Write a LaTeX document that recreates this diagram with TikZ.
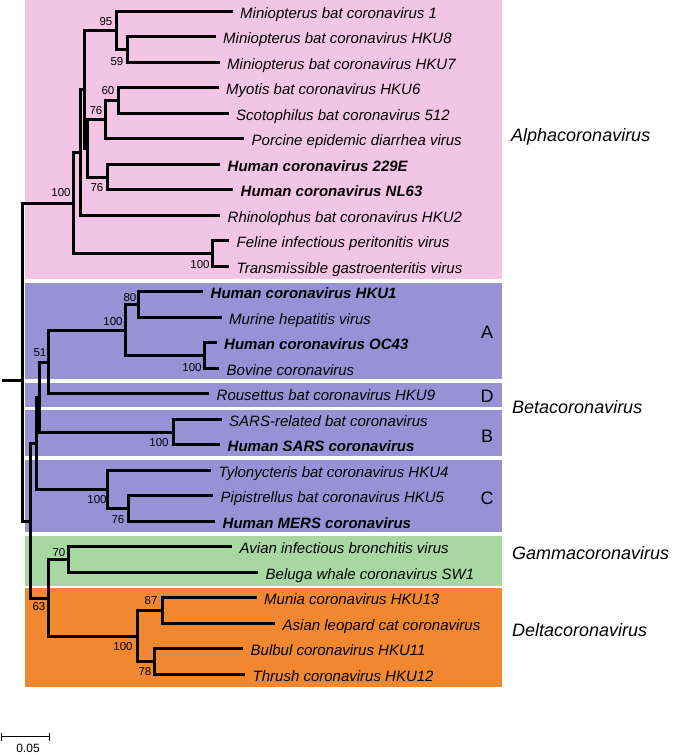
\documentclass[tikz,border=0pt]{standalone}
\usepackage{fontspec}
\setmainfont{Liberation Sans}
\definecolor{pinkc}{RGB}{243,197,228}
\definecolor{purc}{RGB}{152,145,213}
\definecolor{greenc}{RGB}{168,216,162}
\definecolor{orangec}{RGB}{241,135,48}
\tikzset{
  leaf/.style={anchor=west, inner xsep=7.5pt, inner ysep=0pt, text height=13.5pt, text depth=0pt, font=\fontsize{15}{18}\selectfont\itshape},
  leafb/.style={leaf, font=\fontsize{15}{18}\selectfont\bfseries\itshape},
  boot/.style={inner sep=0pt, font=\fontsize{11.5}{13}\selectfont},
  grp/.style={anchor=west, inner sep=0pt, font=\fontsize{18}{21}\selectfont\itshape},
  sub/.style={inner sep=0pt, font=\fontsize{18}{21}\selectfont},
  br/.style={line width=2.1pt, line join=miter},
}
\begin{document}
\begin{tikzpicture}[x=1pt,y=-1pt]
\useasboundingbox (0,0) rectangle (673,755);
% panels
\fill[pinkc] (25,0) rectangle (502,279);
\fill[purc] (25,283) rectangle (502,379);
\fill[purc] (25,383) rectangle (502,407);
\fill[purc] (25,410) rectangle (502,456);
\fill[purc] (25,460) rectangle (502,532);
\fill[greenc] (25,536) rectangle (502,586);
\fill[orangec] (25,588) rectangle (502,687);
% leaves
\node[leaf]  (L0)  at (232.5,11.5) {Miniopterus bat coronavirus 1};
\node[leaf]  (L1)  at (215.5,36.5) {Miniopterus bat coronavirus HKU8};
\node[leaf]  (L2)  at (219.5,62.5) {Miniopterus bat coronavirus HKU7};
\node[leaf]  (L3)  at (218.5,87.5) {Myotis bat coronavirus HKU6};
\node[leaf]  (L4)  at (228.5,113.5){Scotophilus bat coronavirus 512};
\node[leaf]  (L5)  at (244,138.5)  {Porcine epidemic diarrhea virus};
\node[leafb] (L6)  at (220,164.5)  {Human coronavirus 229E};
\node[leafb] (L7)  at (233,189.5)  {Human coronavirus NL63};
\node[leaf]  (L8)  at (220,215.5)  {Rhinolophus bat coronavirus HKU2};
\node[leaf]  (L9)  at (229,240.5)  {Feline infectious peritonitis virus};
\node[leaf]  (L10) at (229,266.5)  {Transmissible gastroenteritis virus};
\node[leafb] (L11) at (203,291.5)  {Human coronavirus HKU1};
\node[leaf]  (L12) at (221.5,317.5){Murine hepatitis virus};
\node[leafb] (L13) at (216.5,342.5){Human coronavirus OC43};
\node[leaf]  (L14) at (219,368.5)  {Bovine coronavirus};
\node[leaf]  (L15) at (209,393.5)  {Rousettus bat coronavirus HKU9};
\node[leaf]  (L16) at (221.5,419.5){SARS-related bat coronavirus};
\node[leafb] (L17) at (220,444.5)  {Human SARS coronavirus};
\node[leaf]  (L18) at (211,470.5)  {Tylonycteris bat coronavirus HKU4};
\node[leaf]  (L19) at (213,495.5)  {Pipistrellus bat coronavirus HKU5};
\node[leafb] (L20) at (215,521.5)  {Human MERS coronavirus};
\node[leaf]  (L21) at (232,546.5)  {Avian infectious bronchitis virus};
\node[leaf]  (L22) at (258,572.5)  {Beluga whale coronavirus SW1};
\node[leaf]  (L23) at (256.5,597.5){Munia coronavirus HKU13};
\node[leaf]  (L24) at (275,623.5)  {Asian leopard cat coronavirus};
\node[leaf]  (L25) at (243,648.5)  {Bulbul coronavirus HKU11};
\node[leaf]  (L26) at (245,674.5)  {Thrush coronavirus HKU12};
% internal nodes
\coordinate (nH87)   at (127.5,49.5);
\coordinate (nMini)  at (116.5,30.5);
\coordinate (n60)    at (118.5,100.5);
\coordinate (n76a)   at (105.5,119.5);
\coordinate (n76b)   at (107.5,177.5);
\coordinate (nP)     at (87.5,148.5);
\coordinate (nQ)     at (84.5,89.5);
\coordinate (nR)     at (80.5,152.5);
\coordinate (nFT)    at (212.5,253.5);
\coordinate (nAlpha) at (73.5,203.5);
\coordinate (n80)    at (138.5,304.5);
\coordinate (nOB)    at (204.5,355.5);
\coordinate (nA)     at (125.5,330.5);
\coordinate (nAD)    at (48.5,362.5);
\coordinate (nSARS)  at (173.5,432.5);
\coordinate (nADB)   at (39.5,397.5);
\coordinate (nPM)    at (128.5,508.5);
\coordinate (nC)     at (107.5,489.5);
\coordinate (nBeta)  at (36.5,443.5);
\coordinate (nG)     at (68.5,559.5);
\coordinate (nMA)    at (162.5,610.5);
\coordinate (nBT)    at (154.5,661.5);
\coordinate (nD)     at (137.5,636.5);
\coordinate (nGD)    at (48.5,598.5);
\coordinate (nBGD)   at (30.5,521.5);
\coordinate (root)   at (22.5,380.5);
\coordinate (stub)   at (2,380.5);
% branches
\draw[br] (L1.west) -| (nH87);  \draw[br] (L2.west) -| (nH87);
\draw[br] (L0.west) -| (nMini); \draw[br] (nH87) -| (nMini);
\draw[br] (L3.west) -| (n60);   \draw[br] (L4.west) -| (n60);
\draw[br] (n60) -| (n76a);      \draw[br] (L5.west) -| (n76a);
\draw[br] (L6.west) -| (n76b);  \draw[br] (L7.west) -| (n76b);
\draw[br] (n76a) -| (nP);       \draw[br] (n76b) -| (nP);
\draw[br] (nMini) -| (nQ);      \draw[br] (nP) -| (nQ);
\draw[br] (nQ) -| (nR);         \draw[br] (L8.west) -| (nR);
\draw[br] (L9.west) -| (nFT);   \draw[br] (L10.west) -| (nFT);
\draw[br] (nR) -| (nAlpha);     \draw[br] (nFT) -| (nAlpha);
\draw[br] (L11.west) -| (n80);  \draw[br] (L12.west) -| (n80);
\draw[br] (L13.west) -| (nOB);  \draw[br] (L14.west) -| (nOB);
\draw[br] (n80) -| (nA);        \draw[br] (nOB) -| (nA);
\draw[br] (nA) -| (nAD);        \draw[br] (L15.west) -| (nAD);
\draw[br] (L16.west) -| (nSARS);\draw[br] (L17.west) -| (nSARS);
\draw[br] (nAD) -| (nADB);      \draw[br] (nSARS) -| (nADB);
\draw[br] (L19.west) -| (nPM);  \draw[br] (L20.west) -| (nPM);
\draw[br] (L18.west) -| (nC);   \draw[br] (nPM) -| (nC);
\draw[br] (nADB) -| (nBeta);    \draw[br] (nC) -| (nBeta);
\draw[br] (L21.west) -| (nG);   \draw[br] (L22.west) -| (nG);
\draw[br] (L23.west) -| (nMA);  \draw[br] (L24.west) -| (nMA);
\draw[br] (L25.west) -| (nBT);  \draw[br] (L26.west) -| (nBT);
\draw[br] (nMA) -| (nD);        \draw[br] (nBT) -| (nD);
\draw[br] (nG) -| (nGD);        \draw[br] (nD) -| (nGD);
\draw[br] (nBeta) -| (nBGD);    \draw[br] (nGD) -| (nBGD);
\draw[br] (nAlpha) -| (root);   \draw[br] (nBGD) -| (root);
\draw[br] (stub) -- (root);
% bootstrap values
\node[boot] (b1)  at (106,22)  {95};
\node[boot] (b2)  at (117,62)  {59};
\node[boot] (b3)  at (108,91)  {60};
\node[boot] (b4)  at (96,111)  {76};
\node[boot] (b5)  at (97,188)  {76};
\node[boot] (b6)  at (61,193)  {100};
\node[boot] (b7)  at (200,265) {100};
\node[boot] (b8)  at (130,298) {80};
\node[boot] (b9)  at (113,322) {100};
\node[boot] (b10) at (40,353)  {51};
\node[boot] (b11) at (192,368) {100};
\node[boot] (b12) at (159,443) {100};
\node[boot] (b13) at (97,500)  {100};
\node[boot] (b14) at (118,520) {76};
\node[boot] (b15) at (59,553)  {70};
\node[boot] (b16) at (39,607)  {63};
\node[boot] (b17) at (151,601) {87};
\node[boot] (b18) at (123,647) {100};
\node[boot] (b19) at (145,672) {78};
% subgroup letters
\node[sub] (sA) at (487,332) {A};
\node[sub] (sD) at (487,396) {D};
\node[sub] (sB) at (487,436) {B};
\node[sub] (sC) at (487,498) {C};
% genus labels
\node[grp] (gAlpha) at (511,137) {Alphacoronavirus};
\node[grp] (gBeta)  at (512,407) {Betacoronavirus};
\node[grp] (gGamma) at (512,553) {Gammacoronavirus};
\node[grp] (gDelta) at (512,630) {Deltacoronavirus};
% scale bar
\coordinate (s1) at (1.5,736.5);
\coordinate (s2) at (49.5,736.5);
\draw[line width=1.2pt] (s1) -- (s2);
\draw[line width=1.2pt] ([yshift=-4pt]s1) -- ([yshift=4pt]s1);
\draw[line width=1.2pt] ([yshift=-4pt]s2) -- ([yshift=4pt]s2);
\node[inner sep=0pt, font=\fontsize{12}{14}\selectfont] (sl) at (28,748) {0.05};
\end{tikzpicture}
\end{document}
